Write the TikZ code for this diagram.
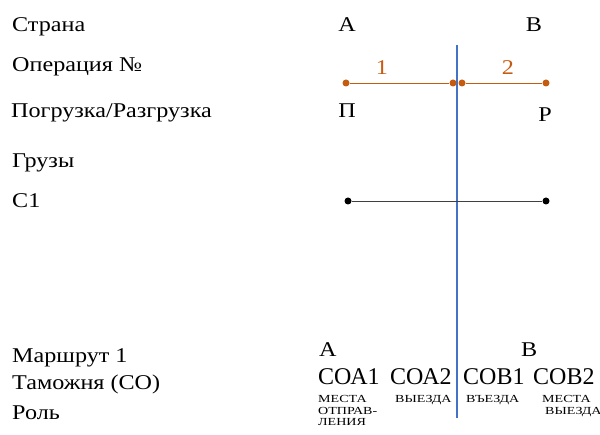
\documentclass[tikz,border=0pt]{standalone}
\usepackage{fontspec}
\setmainfont[FakeStretch=1.15]{Liberation Serif}
\newfontfamily\plainserif{Liberation Serif}
\newfontfamily\wideserif[FakeStretch=1.3]{Liberation Serif}
\definecolor{orng}{HTML}{C55A11}
\definecolor{blu}{HTML}{4472C4}
\begin{document}
\begin{tikzpicture}[x=1pt,y=-1pt,
  lbl/.style={anchor=base west, inner sep=0, font=\fontsize{21}{24}\selectfont},
  ctr/.style={anchor=base, inner sep=0, font=\fontsize{21}{24}\selectfont},
  big/.style={anchor=base west, inner sep=0, font=\plainserif\fontsize{24}{28}\selectfont},
  small/.style={anchor=north west, inner sep=0, align=left, font=\wideserif\fontsize{10.8}{11.8}\selectfont},
  odot/.style={circle, fill=orng, inner sep=0, minimum size=7pt},
  bdot/.style={circle, fill=black, inner sep=0, minimum size=7pt},
  oline/.style={draw=orng, line width=0.9pt},
  bline/.style={draw=black!75, line width=0.9pt}]
\useasboundingbox (0,0) rectangle (600,435);
% left labels
\node[lbl] (l1) at (12,32) {Страна};
\node[lbl] (l2) at (12,72) {Операция №};
\node[lbl] (l3) at (11,118) {Погрузка/Разгрузка};
\node[lbl] (l4) at (12,168) {Грузы};
\node[lbl] (l5) at (12,208) {С1};
\node[lbl] (l6) at (12,363) {Маршрут 1};
\node[lbl] (l7) at (12,390) {Таможня (СО)};
\node[lbl] (l8) at (12,420) {Роль};
% countries
\node[ctr] (ca) at (347,32) {А};
\node[ctr] (cb) at (534,32) {В};
% vertical border line
\coordinate (bt) at (457,45);
\coordinate (bb) at (457,418);
\draw[draw=blu, line width=1.1pt] (bt) -- (bb);
% operations
\node[odot] (o1) at (346,83) {};
\node[odot] (o2) at (453,83) {};
\node[odot] (o3) at (462,83) {};
\node[odot] (o4) at (546,83) {};
\draw[oline] (o1) -- (o2);
\draw[oline] (o3) -- (o4);
\node[ctr, text=orng] (n1) at (382,75) {1};
\node[ctr, text=orng] (n2) at (508,75) {2};
\node[ctr] (p) at (347,118) {П};
\node[ctr] (r) at (545,122) {Р};
% cargo C1
\node[bdot] (c1a) at (348,201) {};
\node[bdot] (c1b) at (546,201) {};
\draw[bline] (c1a) -- (c1b);
% bottom
\node[lbl] (ra) at (319,357) {А};
\node[lbl] (rb) at (521,357) {В};
\node[big] (coa1) at (318,385) {СОА1};
\node[big] (coa2) at (390,385) {СОА2};
\node[big] (cob1) at (463,385) {СОВ1};
\node[big] (cob2) at (533,385) {СОВ2};
\node[small] (s1) at (318,395) {МЕСТА\\ОТПРАВ-\\ЛЕНИЯ};
\node[small] (s2) at (395,395) {ВЫЕЗДА};
\node[small] (s3) at (466,395) {ВЪЕЗДА};
\node[small] (s4) at (542,395) {МЕСТА\\\hspace*{3pt}ВЫЕЗДА};
\end{tikzpicture}
\end{document}
